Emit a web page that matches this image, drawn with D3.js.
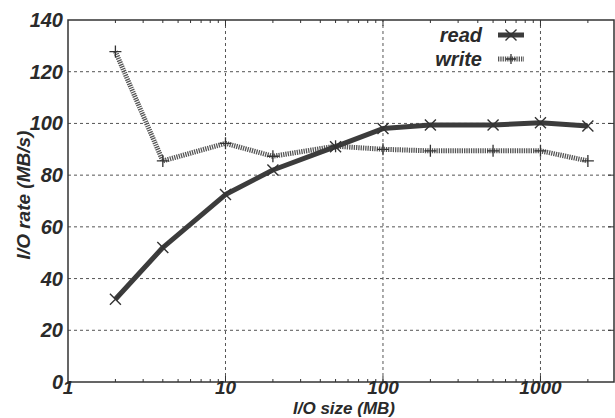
<!DOCTYPE html>
<html>
<meta charset="utf-8">
<head>
<title>I/O rate</title>
<script src="https://cdnjs.cloudflare.com/ajax/libs/d3/7.8.5/d3.min.js"></script>
<style>
    body { margin: 0; background: #fff; }
    text { font-family: "Liberation Sans", Arial, sans-serif; font-weight: bold; font-style: italic; fill: #2a2a2a; }
</style>
</head>
<body>
<script>

const width = 615,
    height = 418;

// I/O sizes in MB
const sizes = [2, 4, 10, 20, 50, 100, 200, 500, 1000, 2000];
// rates in MB/s
const readRates = [32, 52, 72.5, 82, 91, 98, 99.4, 99.4, 100.3, 99];
const writeRates = [127.8, 85.5, 92.3, 87.3, 91.2, 90, 89.4, 89.4, 89.4, 85.5];
const yTicks = [0, 20, 40, 60, 80, 100, 120, 140];
const xTicks = [1, 10, 100, 1000];

const margin = {left: 68, top: 20, right: 1, bottom: 36};

const x = d3.scaleLog()
    .domain([1, 2930])
    .range([margin.left, width - margin.right]);
const y = d3.scaleLinear()
    .domain([0, 140])
    .range([height - margin.bottom, margin.top]);

const svg = d3.select("body")
    .append("svg")
    .attr("width", width)
    .attr("height", height);

const x0 = x.range()[0], x1 = x.range()[1];
const y0 = y.range()[0], y1 = y.range()[1];

// dashed grid
svg.selectAll("line.hgrid")
    .data(yTicks.slice(1, -1))
    .enter()
    .append("line")
    .attr("x1", x0).attr("x2", x1)
    .attr("y1", d => y(d)).attr("y2", d => y(d))
    .attr("stroke", "#555")
    .attr("stroke-width", 1)
    .attr("stroke-dasharray", "3,3");
svg.selectAll("line.vgrid")
    .data(xTicks.slice(1))
    .enter()
    .append("line")
    .attr("x1", d => x(d)).attr("x2", d => x(d))
    .attr("y1", y0).attr("y2", y1)
    .attr("stroke", "#555")
    .attr("stroke-width", 1)
    .attr("stroke-dasharray", "3,3");

// minor ticks along x (top and bottom, inside)
const minor = x.ticks().filter(d => d > 1 && d < 2930);
svg.selectAll("line.xtb")
    .data(minor)
    .enter()
    .append("line")
    .attr("x1", d => x(d)).attr("x2", d => x(d))
    .attr("y1", y0).attr("y2", d => xTicks.includes(d) ? y0 - 6 : y0 - 3)
    .attr("stroke", "#333");
svg.selectAll("line.xtt")
    .data(minor)
    .enter()
    .append("line")
    .attr("x1", d => x(d)).attr("x2", d => x(d))
    .attr("y1", y1).attr("y2", d => xTicks.includes(d) ? y1 + 6 : y1 + 3)
    .attr("stroke", "#333");
svg.selectAll("line.ytr")
    .data(yTicks.slice(1, -1))
    .enter()
    .append("line")
    .attr("x1", x1).attr("x2", x1 - 6)
    .attr("y1", d => y(d)).attr("y2", d => y(d))
    .attr("stroke", "#333");

// frame
svg.append("rect")
    .attr("x", x0).attr("y", y1)
    .attr("width", x1 - x0).attr("height", y0 - y1)
    .attr("fill", "none")
    .attr("stroke", "#333")
    .attr("stroke-width", 1.5);

// tick labels
svg.selectAll("text.ylab")
    .data(yTicks)
    .enter()
    .append("text")
    .attr("x", x0 - 5)
    .attr("y", d => y(d) + 7)
    .attr("text-anchor", "end")
    .attr("font-size", "20px")
    .text(d => d);
svg.selectAll("text.xlab")
    .data(xTicks)
    .enter()
    .append("text")
    .attr("x", d => x(d))
    .attr("y", y0 + 12)
    .attr("text-anchor", "middle")
    .attr("font-size", "19px")
    .text(d => d);

// axis titles
svg.append("text")
    .attr("x", 344)
    .attr("y", y0 + 32)
    .attr("text-anchor", "middle")
    .attr("font-size", "17px")
    .text("I/O size (MB)");
svg.append("text")
    .attr("transform", "translate(30,195) rotate(-90)")
    .attr("text-anchor", "middle")
    .attr("font-size", "19px")
    .text("I/O rate (MB/s)");

const line = d3.line()
    .x(d => x(d[0]))
    .y(d => y(d[1]));

const readPts = sizes.map((s, i) => [s, readRates[i]]);
const writePts = sizes.map((s, i) => [s, writeRates[i]]);

function writeStyle(sel) {
    sel.attr("fill", "none")
        .attr("stroke", "#555")
        .attr("stroke-width", 5)
        .attr("stroke-dasharray", "1.3,1");
}
function readStyle(sel) {
    sel.attr("fill", "none")
        .attr("stroke", "#3c3c3c")
        .attr("stroke-width", 5)
        .attr("stroke-linejoin", "round");
}

svg.append("path").datum(writePts).attr("d", line).call(writeStyle);
svg.append("path").datum(readPts).attr("d", line).call(readStyle);

// markers
function drawPlus(g, cx, cy, r) {
    g.append("path")
        .attr("d", `M${cx - r},${cy}H${cx + r}M${cx},${cy - r}V${cy + r}`)
        .attr("stroke", "#333").attr("stroke-width", 1.3).attr("fill", "none");
}
function drawX(g, cx, cy, r) {
    g.append("path")
        .attr("d", `M${cx - r},${cy - r}L${cx + r},${cy + r}M${cx - r},${cy + r}L${cx + r},${cy - r}`)
        .attr("stroke", "#333").attr("stroke-width", 1.4).attr("fill", "none");
}
const marks = svg.append("g");
writePts.forEach(d => drawPlus(marks, x(d[0]), y(d[1]), 6));
readPts.forEach(d => drawX(marks, x(d[0]), y(d[1]), 5.5));

// legend
const legend = [
    {name: "read", style: readStyle, mark: drawX, r: 5.5, yy: 35},
    {name: "write", style: writeStyle, mark: drawPlus, r: 5, yy: 59}
];
legend.forEach(l => {
    svg.append("text")
        .attr("x", 482)
        .attr("y", l.yy + 7)
        .attr("text-anchor", "end")
        .attr("font-size", "20px")
        .text(l.name);
    svg.append("path")
        .attr("d", `M498,${l.yy}H524`)
        .call(l.style);
    l.mark(svg, 511, l.yy, l.r);
});

</script>
</body>
</html>
